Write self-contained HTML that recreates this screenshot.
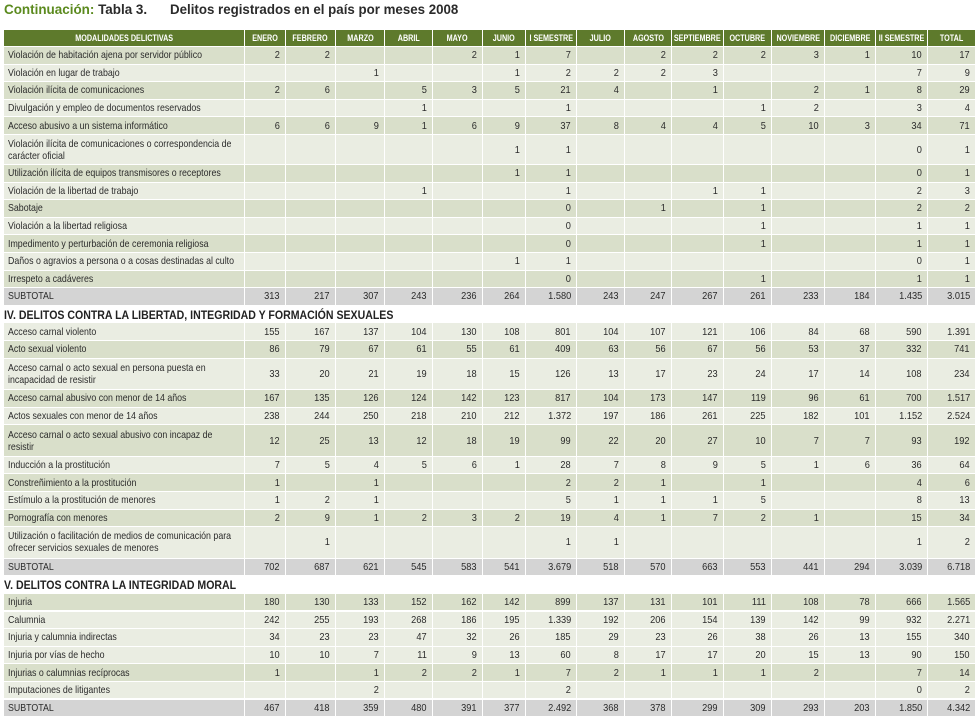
<!DOCTYPE html>
<html><head><meta charset="utf-8">
<style>
html,body{margin:0;padding:0;background:#fff;width:977px;height:719px;overflow:hidden;}
body{position:relative;font-family:"Liberation Sans",sans-serif;color:#2b2b2b;}
.title{position:absolute;top:1px;left:4px;font-family:"Liberation Sans",sans-serif;font-weight:bold;font-size:14px;white-space:nowrap;color:#2b2b2b;transform:scaleX(0.96);transform-origin:left top;}
.title .g{color:#5b8a1e;}
.t2{position:absolute;left:170px;top:1px;font-family:"Liberation Sans",sans-serif;font-weight:bold;font-size:14px;white-space:nowrap;color:#2b2b2b;transform:scaleX(0.95);transform-origin:left top;}
.c{position:absolute;box-sizing:border-box;border-right:1px solid #fff;border-bottom:1px solid #fff;font-size:10.5px;line-height:12px;overflow:hidden;display:flex;align-items:center;}
.c span{display:inline-block;white-space:pre;}
.num{justify-content:flex-end;padding-right:5px;}
.num span{transform:scaleX(0.88);transform-origin:right center;}
.lab{padding-left:4px;}
.lab span{transform:scaleX(0.84);transform-origin:left center;}
.hd{background:#5e7a2c;color:#fff;font-weight:bold;font-size:9px;justify-content:center;}
.hd span{transform:scaleX(0.8);transform-origin:center center;}
.dark{background:#d9dfca;}
.light{background:#eaede2;}
.sub{background:#d4d4d4;}
.sec{position:absolute;left:4px;font-family:"Liberation Sans",sans-serif;font-weight:bold;font-size:12px;color:#222;display:flex;align-items:center;white-space:nowrap;}
.sec span{display:inline-block;transform:scaleX(0.88);transform-origin:left center;}
</style></head>
<body>
<div class="title"><span class="g">Continuación:</span> Tabla 3.</div>
<div class="t2">Delitos registrados en el país por meses 2008</div>
<div id="tbl"></div>
<script>
const columns = ["ENERO","FEBRERO","MARZO","ABRIL","MAYO","JUNIO","I SEMESTRE","JULIO","AGOSTO","SEPTIEMBRE","OCTUBRE","NOVIEMBRE","DICIEMBRE","II SEMESTRE","TOTAL"];
const sec3Labels = ["Violación de habitación ajena por servidor público","Violación en lugar de trabajo","Violación ilícita de comunicaciones","Divulgación y empleo de documentos reservados","Acceso abusivo a un sistema informático","Violación ilícita de comunicaciones o correspondencia de\ncarácter oficial","Utilización ilícita de equipos transmisores o receptores","Violación de la libertad de trabajo","Sabotaje","Violación a la libertad religiosa","Impedimento y perturbación de ceremonia religiosa","Daños o agravios a persona o a cosas destinadas al culto","Irrespeto a cadáveres"];
const sec3Values = [
["2","2","","","2","1","7","","2","2","2","3","1","10","17"],
["","","1","","","1","2","2","2","3","","","","7","9"],
["2","6","","5","3","5","21","4","","1","","2","1","8","29"],
["","","","1","","","1","","","","1","2","","3","4"],
["6","6","9","1","6","9","37","8","4","4","5","10","3","34","71"],
["","","","","","1","1","","","","","","","0","1"],
["","","","","","1","1","","","","","","","0","1"],
["","","","1","","","1","","","1","1","","","2","3"],
["","","","","","","0","","1","","1","","","2","2"],
["","","","","","","0","","","","1","","","1","1"],
["","","","","","","0","","","","1","","","1","1"],
["","","","","","1","1","","","","","","","0","1"],
["","","","","","","0","","","","1","","","1","1"]];
const sec3Subtotal = ["313","217","307","243","236","264","1.580","243","247","267","261","233","184","1.435","3.015"];
const sec4Title = "IV. DELITOS CONTRA LA LIBERTAD, INTEGRIDAD Y FORMACIÓN SEXUALES";
const sec4Labels = ["Acceso carnal violento","Acto sexual violento","Acceso carnal o acto sexual en persona puesta en\nincapacidad de resistir","Acceso carnal abusivo con menor de 14 años","Actos sexuales con menor de 14 años","Acceso carnal o acto sexual abusivo con incapaz de\nresistir","Inducción a la prostitución","Constreñimiento a la prostitución","Estímulo a la prostitución de menores","Pornografía con menores","Utilización o facilitación de medios de comunicación para\nofrecer servicios sexuales de menores"];
const sec4Values = [
["155","167","137","104","130","108","801","104","107","121","106","84","68","590","1.391"],
["86","79","67","61","55","61","409","63","56","67","56","53","37","332","741"],
["33","20","21","19","18","15","126","13","17","23","24","17","14","108","234"],
["167","135","126","124","142","123","817","104","173","147","119","96","61","700","1.517"],
["238","244","250","218","210","212","1.372","197","186","261","225","182","101","1.152","2.524"],
["12","25","13","12","18","19","99","22","20","27","10","7","7","93","192"],
["7","5","4","5","6","1","28","7","8","9","5","1","6","36","64"],
["1","","1","","","","2","2","1","","1","","","4","6"],
["1","2","1","","","","5","1","1","1","5","","","8","13"],
["2","9","1","2","3","2","19","4","1","7","2","1","","15","34"],
["","1","","","","","1","1","","","","","","1","2"]];
const sec4Subtotal = ["702","687","621","545","583","541","3.679","518","570","663","553","441","294","3.039","6.718"];
const sec5Title = "V. DELITOS CONTRA LA INTEGRIDAD MORAL";
const sec5Labels = ["Injuria","Calumnia","Injuria y calumnia indirectas","Injuria por vías de hecho","Injurias o calumnias recíprocas","Imputaciones de litigantes"];
const sec5Values = [
["180","130","133","152","162","142","899","137","131","101","111","108","78","666","1.565"],
["242","255","193","268","186","195","1.339","192","206","154","139","142","99","932","2.271"],
["34","23","23","47","32","26","185","29","23","26","38","26","13","155","340"],
["10","10","7","11","9","13","60","8","17","17","20","15","13","90","150"],
["1","","1","2","2","1","7","2","1","1","1","2","","7","14"],
["","","2","","","","2","","","","","","","0","2"]];
const sec5Subtotal = ["467","418","359","480","391","377","2.492","368","378","299","309","293","203","1.850","4.342"];

const xs=[4,245,286,336,385,433,483,526,577,625,672,724,772,825,876,928,976];
const tbl=document.getElementById('tbl');
function cell(x0,x1,y,h,cls,txt){
  const d=document.createElement('div');
  d.className='c '+cls;
  d.style.left=x0+'px';d.style.top=y+'px';d.style.width=(x1-x0)+'px';d.style.height=h+'px';
  const s=document.createElement('span');
  s.textContent=txt;
  d.appendChild(s);
  
  
  tbl.appendChild(d);return d;
}
let y=30;
let hc=cell(xs[0],xs[1],y,17,'hd','MODALIDADES DELICTIVAS');

for(let i=0;i<columns.length;i++){
  const h=cell(xs[i+1],xs[i+2],y,17,'hd',columns[i]);
  
}
y=47;
function rows(labels,vals,dbl,startDark,altPattern){
  for(let r=0;r<labels.length;r++){
    const isD=labels[r].indexOf('\n')>=0;
    const h=isD?dbl:17.6;
    let dark=altPattern?altPattern[r]:((r%2===0)===startDark);
    const cls=dark?'dark':'light';
    const l=cell(xs[0],xs[1],y,h,'lab '+cls,labels[r]);
    
    for(let i=0;i<vals[r].length;i++){
      const v=cell(xs[i+1],xs[i+2],y,h,'num '+cls,vals[r][i]);
      
    }
    y+=h;
  }
}
function subtotal(vals){
  const l=cell(xs[0],xs[1],y,17.6,'lab sub','SUBTOTAL');
  
  for(let i=0;i<vals.length;i++){
    const v=cell(xs[i+1],xs[i+2],y,17.6,'num sub',vals[i]);
    
  }
  y+=17.6;
}
function section(t){
  const s=document.createElement('div');
  s.className='sec';s.style.top=y+'px';s.style.height='17.6px';
  const sp=document.createElement('span');sp.textContent=t;s.appendChild(sp);
  
  
  tbl.appendChild(s);y+=17.6;
}
rows(sec3Labels,sec3Values,30,true);
subtotal(sec3Subtotal);
section(sec4Title);
rows(sec4Labels,sec4Values,31.5,false);
subtotal(sec4Subtotal);
section(sec5Title);
rows(sec5Labels,sec5Values,30,true,[true,false,false,false,true,false]);
subtotal(sec5Subtotal);
</script>
</body></html>
